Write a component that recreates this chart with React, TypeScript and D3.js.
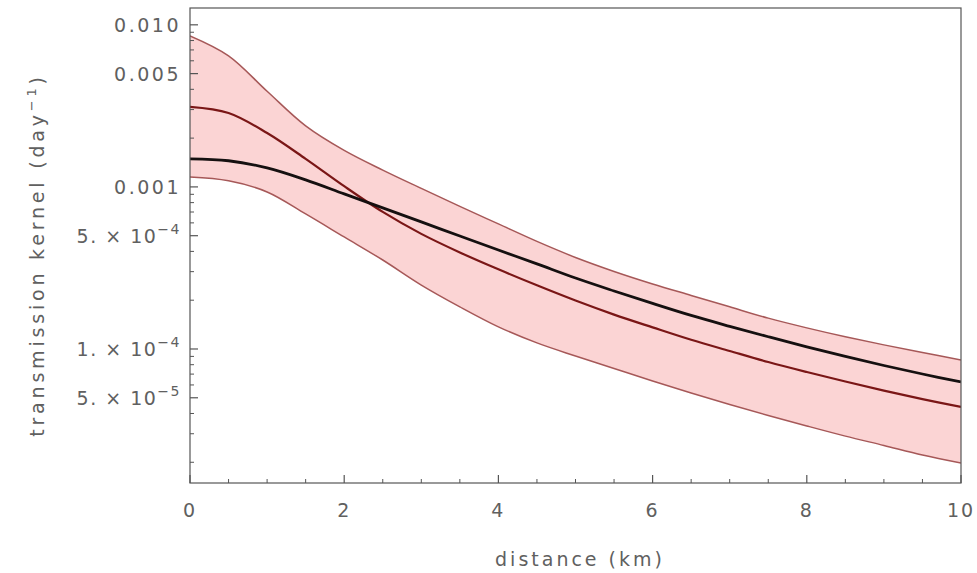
import React from "react";
import * as d3 from "d3";

// distance (km) sampled every 0.5 km
const distance = [0, 0.5, 1, 1.5, 2, 2.5, 3, 3.5, 4, 4.5, 5, 5.5, 6, 6.5, 7, 7.5, 8, 8.5, 9, 9.5, 10];

// kernel values (day^-1)
const upperBand = [8.55e-3, 6.44e-3, 3.89e-3, 2.38e-3, 1.68e-3, 1.27e-3, 9.79e-4, 7.58e-4, 5.91e-4, 4.61e-4, 3.67e-4,
  3.01e-4, 2.52e-4, 2.14e-4, 1.82e-4, 1.55e-4, 1.35e-4, 1.19e-4, 1.06e-4, 9.51e-5, 8.55e-5];
const lowerBand = [1.15e-3, 1.09e-3, 9.31e-4, 6.81e-4, 4.91e-4, 3.54e-4, 2.48e-4, 1.82e-4, 1.37e-4, 1.09e-4, 9.05e-5,
  7.58e-5, 6.35e-5, 5.35e-5, 4.54e-5, 3.89e-5, 3.35e-5, 2.90e-5, 2.54e-5, 2.22e-5, 1.98e-5];
const meanKernel = [3.12e-3, 2.86e-3, 2.15e-3, 1.49e-3, 1.01e-3, 7.01e-4, 5.13e-4, 3.94e-4, 3.10e-4, 2.47e-4, 1.99e-4,
  1.63e-4, 1.36e-4, 1.14e-4, 9.72e-5, 8.31e-5, 7.21e-5, 6.30e-5, 5.54e-5, 4.91e-5, 4.39e-5];
const fittedKernel = [1.49e-3, 1.45e-3, 1.31e-3, 1.105e-3, 9.05e-4, 7.42e-4, 6.08e-4, 4.98e-4, 4.08e-4, 3.35e-4, 2.74e-4,
  2.28e-4, 1.91e-4, 1.61e-4, 1.38e-4, 1.19e-4, 1.03e-4, 8.99e-5, 7.91e-5, 7.01e-5, 6.26e-5];

const xMajorTicks = [0, 2, 4, 6, 8, 10];
const xMinorTicks = [0.5, 1, 1.5, 2.5, 3, 3.5, 4.5, 5, 5.5, 6.5, 7, 7.5, 8.5, 9, 9.5];
const yTickValues = [0.01, 0.005, 0.001, 5e-4, 1e-4, 5e-5];
const yTickMantissa = ["0.010", "0.005", "0.001", "5. \u00d7 10", "1. \u00d7 10", "5. \u00d7 10"];
const yTickExponent = ["", "", "", "\u22124", "\u22124", "\u22125"];

const W = 977, H = 573;
const left = 190, right = 961, top = 8, bottom = 483;
const textColor = "#606060";
const axisColor = "#555";
const font = "'DejaVu Sans', Verdana, sans-serif";

export default function App() {
  const x = d3.scaleLinear().domain([0, 10]).range([left, right]);
  const y = d3.scaleLog().domain([1.49e-5, 0.0127]).range([bottom, top]);

  const idx = distance.map((_, i) => i);
  const curve = d3.curveCatmullRom.alpha(0.5);
  const line = (vals: number[]) =>
    d3.line<number>().x(i => x(distance[i])).y(i => y(vals[i])).curve(curve)(idx) || "";
  const band = d3.area<number>()
    .x(i => x(distance[i]))
    .y0(i => y(lowerBand[i]))
    .y1(i => y(upperBand[i]))
    .curve(curve)(idx) || "";

  const minorY = y.ticks().filter(t => !yTickValues.some(v => Math.abs(v - t) / v < 1e-6));

  return (
    <svg width={W} height={H} style={{ position: "absolute", left: 0, top: 0, background: "#fff" }}>
      <defs>
        <clipPath id="plot">
          <rect x={left} y={top} width={right - left} height={bottom - top} />
        </clipPath>
      </defs>
      <g clipPath="url(#plot)">
        <path d={band} fill="#fbd4d4" stroke="none" />
        <path d={line(upperBand)} fill="none" stroke="#a65858" strokeWidth={1.5} />
        <path d={line(lowerBand)} fill="none" stroke="#a65858" strokeWidth={1.5} />
        <path d={line(meanKernel)} fill="none" stroke="#7a1616" strokeWidth={2.2} />
        <path d={line(fittedKernel)} fill="none" stroke="#151010" strokeWidth={2.8} />
      </g>

      {/* frame */}
      <rect x={left} y={top} width={right - left} height={bottom - top} fill="none" stroke={axisColor} strokeWidth={1.2} />

      {/* x ticks */}
      {xMajorTicks.map(t => (
        <g key={"xm" + t}>
          <line x1={x(t)} x2={x(t)} y1={bottom} y2={bottom - 8} stroke={axisColor} strokeWidth={1.2} />
          <text x={x(t)} y={517} textAnchor="middle" fontFamily={font} fontSize={19} letterSpacing={2} fill={textColor}>{t}</text>
        </g>
      ))}
      {xMinorTicks.map(t => (
        <line key={"xn" + t} x1={x(t)} x2={x(t)} y1={bottom} y2={bottom - 4} stroke={axisColor} strokeWidth={1} />
      ))}

      {/* y ticks */}
      {minorY.map(t => (
        <line key={"yn" + t} x1={left} x2={left + 4} y1={y(t)} y2={y(t)} stroke={axisColor} strokeWidth={1} />
      ))}
      {yTickValues.map((t, i) => (
        <g key={"ym" + t}>
          <line x1={left} x2={left + 8} y1={y(t)} y2={y(t)} stroke={axisColor} strokeWidth={1.2} />
          <text x={181} y={y(t) + 7} textAnchor="end" fontFamily={font} fontSize={19}
            letterSpacing={yTickExponent[i] ? 1.5 : 2.5} fill={textColor}>
            <tspan>{yTickMantissa[i]}</tspan>
            {yTickExponent[i] ? <tspan dy={-9} fontSize={14}>{yTickExponent[i]}</tspan> : null}
          </text>
        </g>
      ))}

      {/* axis labels */}
      <text x={580} y={566} textAnchor="middle" fontFamily={font} fontSize={19} letterSpacing={3} fill={textColor}>distance (km)</text>
      <text transform="translate(44,255) rotate(-90)" textAnchor="middle" fontFamily={font} fontSize={19} letterSpacing={3.8} fill={textColor}>
        <tspan>transmission kernel (day</tspan>
        <tspan dy={-8} fontSize={13}>{"\u22121"}</tspan>
        <tspan dy={8}>)</tspan>
      </text>
    </svg>
  );
}
